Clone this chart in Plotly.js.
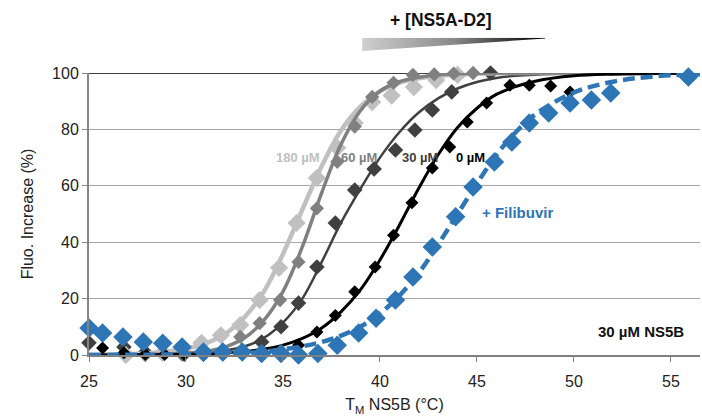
<!DOCTYPE html>
<html>
<head>
<meta charset="utf-8">
<script src="https://cdn.plot.ly/plotly-3.0.1.min.js"></script>
<style>html,body{margin:0;padding:0;background:#fff;}#chart{width:702px;height:416px;}</style>
</head>
<body>
<div id="chart"></div>
<script>
// ---- Data ----
// 180 uM NS5A-D2
const t180 = [26.9, 28.8, 29.8, 30.8, 31.8, 32.8, 33.8, 34.8, 35.7, 36.75, 37.8, 38.7, 39.6, 40.6, 41.75, 42.9, 44.0];
const y180 = [0, 0.7, 1.5, 4.3, 7, 10.6, 19.5, 30.9, 46.8, 62.8, 73.5, 82.3, 89.7, 92, 95, 97.5, 99.3];
// 60 uM
const t60 = [27.9, 29.9, 30.9, 31.9, 32.8, 33.8, 34.85, 35.8, 36.75, 37.8, 38.7, 39.6, 40.7, 41.7, 42.8, 43.8, 44.8];
const y60 = [0, 0, 0.3, 1.5, 6.4, 11.3, 19.5, 33, 52, 68.5, 81, 91.5, 96.5, 99.3, 99.5, 99.8, 100];
// 30 uM
const t30 = [25.0, 26.8, 27.9, 29.8, 30.9, 31.9, 32.9, 33.9, 34.9, 35.8, 36.75, 37.7, 38.7, 39.7, 40.8, 41.8, 42.7, 43.7, 45.7];
const y30 = [4.3, 2.8, 1, 0.5, 0.3, 0.5, 1.2, 4.6, 10, 18.4, 31.2, 46.8, 58.5, 66, 72.7, 79.8, 86.9, 93.3, 100];
// 0 uM
const t0 = [25.7, 26.8, 27.9, 28.9, 29.9, 30.9, 31.9, 32.9, 33.9, 34.9, 35.8, 36.75, 37.7, 38.7, 39.75, 40.7, 41.65, 42.7, 43.6, 44.5, 45.5, 46.7, 47.7, 48.8, 49.8];
const y0 = [2.5, 0.8, 0.3, 0.2, 0.2, 0.3, 0.3, 0.5, 0.7, 1, 3.5, 8.2, 14, 22.4, 31.2, 42.5, 54, 66.3, 73.8, 82.6, 89.4, 95.7, 95.7, 95.4, 93.3];
// + Filibuvir
const tFil = [25.0, 25.7, 26.75, 27.8, 28.8, 29.8, 30.9, 31.9, 32.9, 33.9, 34.9, 35.8, 36.8, 37.8, 38.9, 39.8, 40.8, 41.7, 42.7, 43.9, 44.8, 45.9, 46.8, 47.7, 48.7, 49.8, 50.9, 51.9, 55.9];
const yFil = [9.6, 7.8, 6.4, 4.6, 4.2, 2.8, 1.1, 1.1, 1.1, 0.5, 0.5, 0, 0.5, 3.5, 7.8, 13, 19.5, 27.7, 38.3, 49, 59.6, 68.4, 75.5, 82.3, 85.8, 89.4, 90.4, 92.9, 98.6];

// Fitted curves
const fitT = [25, 28, 30, 31, 32, 33, 34, 35, 36, 37, 38, 39, 40, 41, 42, 43, 44, 45, 46, 47, 48, 50, 52, 54, 56.5];
const fit180 = [0.1, 0.6, 2.2, 4.1, 7.4, 13.3, 22.3, 35.8, 51.6, 67, 79.7, 88.2, 93.5, 96.5, 98.1, 99, 99.5, 99.7, 99.9, 100, 100, 100, 100, 100, 100];
const fit60 = [0, 0.1, 0.6, 1.3, 2.8, 6, 12.2, 22.5, 38.4, 57.6, 74.8, 86.7, 93.6, 96.9, 98.5, 99.3, 99.7, 99.9, 100, 100, 100, 100, 100, 100, 100];
const fit30 = [0, 0.1, 0.3, 0.7, 1.5, 3, 6, 11.5, 20, 33, 47, 59, 70, 79, 86, 91, 94.5, 96.8, 98.2, 99, 99.4, 99.8, 99.9, 100, 100];
const fit0 = [0, 0.1, 0.26, 0.45, 0.74, 1.2, 2.1, 3.5, 5.9, 9.6, 15.4, 23.2, 33.7, 46, 59.1, 71, 80.7, 87.5, 92.4, 95.2, 97.1, 99, 99.6, 99.8, 100];
const fitFil = [0.03, 0.1, 0.23, 0.36, 0.5, 0.8, 1.2, 2, 3.1, 4.6, 6.9, 10.1, 14.7, 21, 29.1, 39.2, 50, 60.8, 70.9, 79, 85.3, 93.1, 96.9, 98.7, 99.6];

const xTicks = [25, 30, 35, 40, 45, 50, 55];
const yTicks = [0, 20, 40, 60, 80, 100];

const FONT = '"Liberation Sans", Arial, sans-serif';
const C180 = '#c0c0c0', C60 = '#808080', C30 = '#404040', C0 = '#000000', CFIL = '#2e75b6';

function fitTrace(y, color, width, dash) {
  return {x: fitT, y: y, type: 'scatter', mode: 'lines', cliponaxis: false, hoverinfo: 'skip',
    line: {color: color, width: width, shape: 'spline', smoothing: 1, dash: dash || 'solid'}, showlegend: false};
}
function ptTrace(x, y, color, size) {
  return {x: x, y: y, type: 'scatter', mode: 'markers', cliponaxis: false,
    marker: {symbol: 'diamond', color: color, size: size, line: {width: 0}}, showlegend: false};
}

const traces = [
  ptTrace(t30, y30, C30, 12),
  fitTrace(fit30, C30, 2.5),
  ptTrace(t180, y180, C180, 14),
  fitTrace(fit180, C180, 4.5),
  ptTrace(t60, y60, C60, 11),
  fitTrace(fit60, C60, 3.5),
  ptTrace(t0, y0, C0, 10),
  fitTrace(fit0, C0, 3),
  ptTrace(tFil, yFil, CFIL, 15),
  fitTrace(fitFil, CFIL, 4.5, '12px,6px')
];

const wedgeSvg = "<svg xmlns='http://www.w3.org/2000/svg' width='183' height='13' viewBox='0 0 183 13' preserveAspectRatio='none'>" +
  "<defs><linearGradient id='g' x1='0' x2='1' y1='0' y2='0'><stop offset='0' stop-color='#cfcfcf'/><stop offset='0.5' stop-color='#8a8a8a'/><stop offset='1' stop-color='#000000'/></linearGradient></defs>" +
  "<polygon points='0,0 183,0 183,0.8 0,13' fill='url(#g)'/></svg>";

const layout = {
  width: 702, height: 416,
  margin: {l: 89, r: 2, t: 73, b: 61},
  paper_bgcolor: '#ffffff', plot_bgcolor: '#ffffff',
  font: {family: FONT, size: 16, color: '#222222'},
  xaxis: {
    range: [25, 56.5], tickvals: xTicks, ticktext: xTicks.map(String),
    ticks: 'outside', ticklen: 5, tickwidth: 1, tickcolor: '#808080',
    showline: true, linecolor: '#808080', linewidth: 2,
    showgrid: false, zeroline: false, ticklabelstandoff: 6,
    tickfont: {family: FONT, size: 16, color: '#222222'},
    title: {text: 'T<sub>M</sub> NS5B (°C)', font: {family: FONT, size: 16, color: '#222222'}, standoff: 10}
  },
  yaxis: {
    range: [0, 100], tickvals: yTicks,
    ticks: 'outside', ticklen: 5, tickwidth: 1, tickcolor: '#868686',
    showline: true, linecolor: '#868686', linewidth: 2,
    showgrid: true, gridcolor: '#a6a6a6', gridwidth: 1, zeroline: false,
    tickfont: {family: FONT, size: 16, color: '#222222'},
    title: {text: 'Fluo. Increase (%)', font: {family: FONT, size: 16, color: '#222222'}, standoff: 14}
  },
  shapes: [
    {type: 'line', xref: 'paper', yref: 'y', x0: 0, x1: 1, y0: 100, y1: 100, line: {color: '#000000', width: 1.5}, layer: 'below'}
  ],
  images: [{
    source: 'data:image/svg+xml;charset=utf-8,' + encodeURIComponent(wedgeSvg),
    xref: 'paper', yref: 'paper', x: 0.447, y: 1.125, sizex: 0.2995, sizey: 0.047,
    xanchor: 'left', yanchor: 'top', sizing: 'stretch', layer: 'above'
  }],
  annotations: [
    {text: '<b>+ [NS5A-D2]</b>', xref: 'paper', yref: 'paper', x: 0.576, y: 1.188, xanchor: 'center', yanchor: 'middle', showarrow: false, font: {family: FONT, size: 17.5, color: '#111111'}},
    {text: '<b>180 µM</b>', xref: 'x', yref: 'y', x: 35.77, y: 70.2, showarrow: false, font: {family: FONT, size: 13, color: C180}},
    {text: '<b>60 µM</b>', xref: 'x', yref: 'y', x: 38.92, y: 70.2, showarrow: false, font: {family: FONT, size: 13, color: C60}},
    {text: '<b>30 µM</b>', xref: 'x', yref: 'y', x: 42.06, y: 70.2, showarrow: false, font: {family: FONT, size: 13, color: C30}},
    {text: '<b>0 µM</b>', xref: 'x', yref: 'y', x: 44.69, y: 70.2, showarrow: false, font: {family: FONT, size: 13, color: C0}},
    {text: '<b>+ Filibuvir</b>', xref: 'x', yref: 'y', x: 47.11, y: 50.7, showarrow: false, font: {family: FONT, size: 15, color: CFIL}},
    {text: '<b>30 µM NS5B</b>', xref: 'x', yref: 'y', x: 53.45, y: 8.2, showarrow: false, font: {family: FONT, size: 15, color: '#111111'}}
  ]
};

Plotly.newPlot('chart', traces, layout, {staticPlot: true, displayModeBar: false});
</script>
</body>
</html>
